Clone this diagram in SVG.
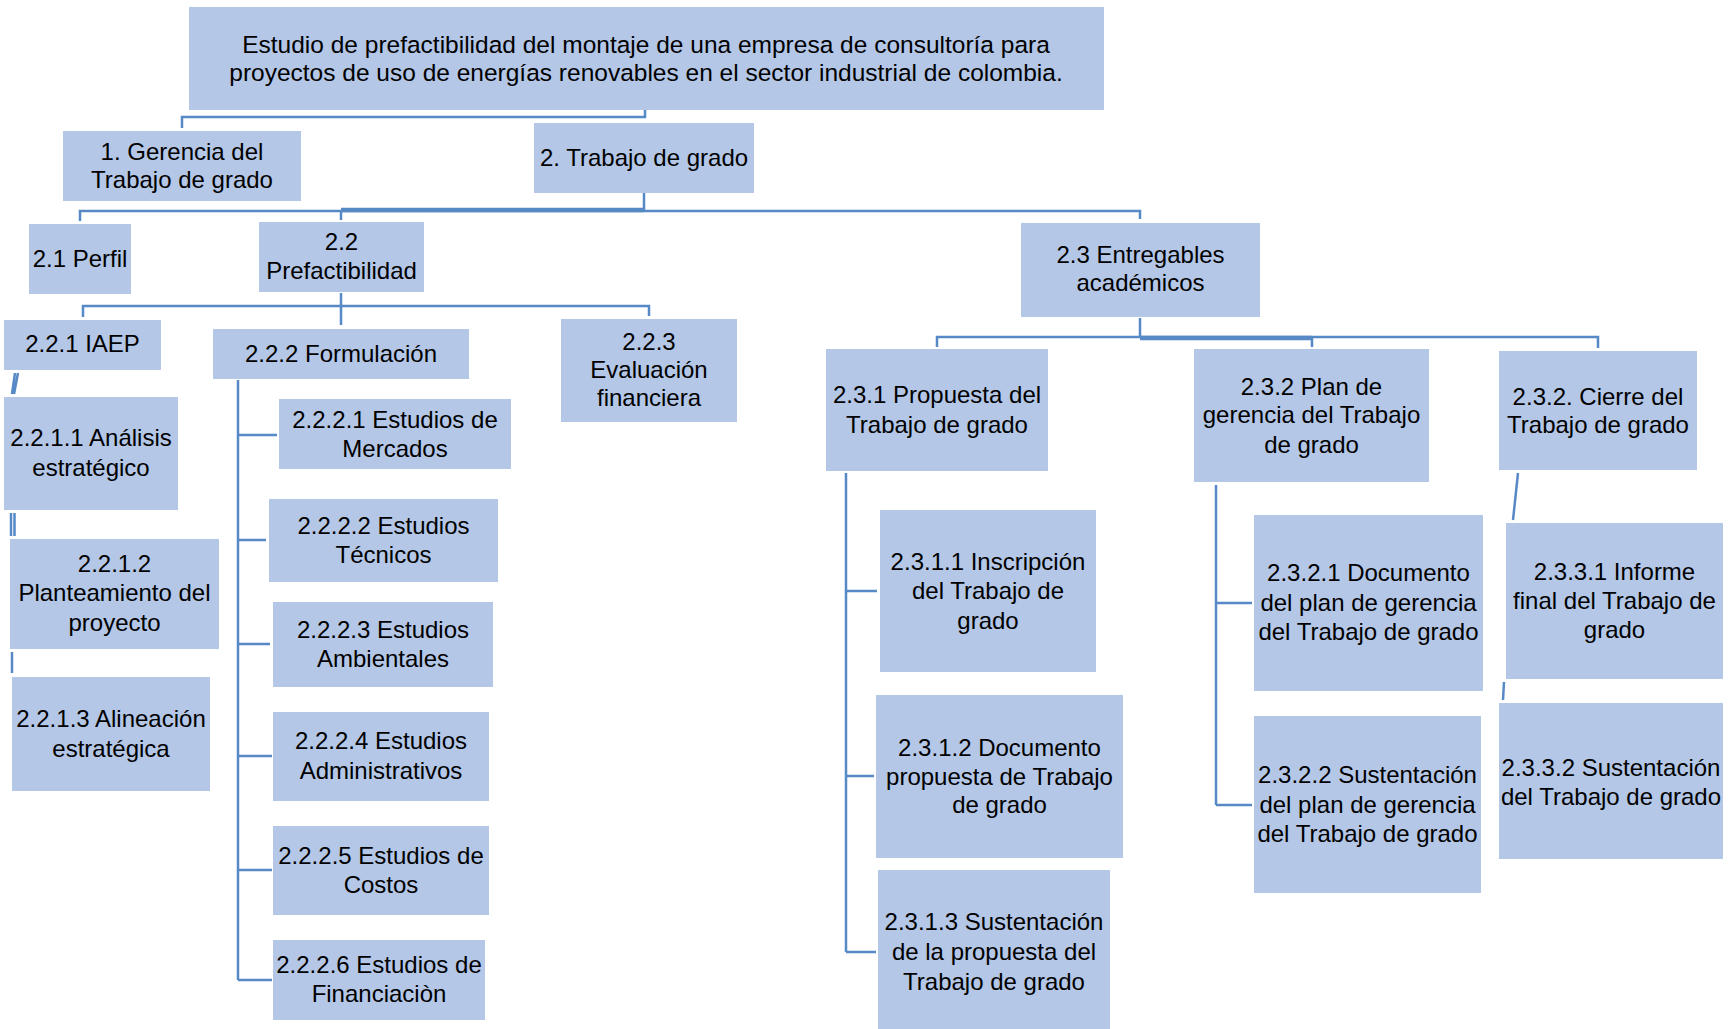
<svg xmlns="http://www.w3.org/2000/svg" width="1736" height="1029" viewBox="0 0 1736 1029">
<style>
.box{fill:#B4C7E7;}
.t{font-family:"Liberation Sans",Arial,sans-serif;font-size:24px;fill:#000;text-anchor:middle;dominant-baseline:central;transform:translateY(-1.5px);}
.big{font-size:24.5px;}
.ln{fill:none;stroke:#5689C5;stroke-width:2.5;}
.thk{fill:none;stroke:#5689C5;stroke-width:4.5;}
</style>
<rect width="1736" height="1029" fill="#fff"/>
<g id="connectors">
<path class="ln" d="M645,110 V117 H182 V128"/>
<path class="ln" d="M644,193 V211 H80 V221 M341,211 V220 M644,211 H1140 V219"/>
<path class="thk" d="M341,210 H644"/>
<path class="ln" d="M341,293 V325 M83,317 V306 H649 V316"/>
<path class="ln" d="M1140,318 V337 H937 V347 M1140,337 H1598 V348 M1312,337 V347"/>
<path class="thk" d="M1140,338 H1312"/>
<path class="ln" d="M238,380 V980 M238,435 H277 M238,540 H266 M238,644 H270 M238,756 H272 M238,870 H272 M238,980 H272"/>
<path class="ln" d="M846,473 V952 M846,591 H877 M846,776 H874 M846,952 H876"/>
<path class="ln" d="M1216,485 V805 M1216,603 H1252 M1216,805 H1252"/>
<path class="ln" d="M1518,473 L1513,520 M1504,682 L1503,700"/>
<path class="ln" d="M18,373 L14,394 M15,373 L12,394 M11,513 V536 M14.5,513 V536 M12,652 V673"/>
</g>
<g id="root"><rect class="box" x="189" y="7" width="915" height="103"/><text class="t big" x="646"><tspan x="646" y="45">Estudio de prefactibilidad del montaje de una empresa de consultoría para</tspan><tspan x="646" y="73">proyectos de uso de energías renovables en el sector industrial de colombia.</tspan></text></g>
<g id="n1"><rect class="box" x="63" y="131" width="238" height="70"/><text class="t"><tspan x="182" y="152">1. Gerencia del</tspan><tspan x="182" y="180">Trabajo de grado</tspan></text></g>
<g id="n2"><rect class="box" x="534" y="123" width="220" height="70"/><text class="t"><tspan x="644" y="158">2. Trabajo de grado</tspan></text></g>
<g id="n21"><rect class="box" x="29" y="224" width="102" height="70"/><text class="t"><tspan x="80" y="259">2.1 Perfil</tspan></text></g>
<g id="n22"><rect class="box" x="259" y="222" width="165" height="70"/><text class="t"><tspan x="341.5" y="242">2.2</tspan><tspan x="341.5" y="271">Prefactibilidad</tspan></text></g>
<g id="n23"><rect class="box" x="1021" y="223" width="239" height="94"/><text class="t"><tspan x="1140.5" y="255">2.3 Entregables</tspan><tspan x="1140.5" y="283">académicos</tspan></text></g>
<g id="n221"><rect class="box" x="4" y="320" width="157" height="50"/><text class="t"><tspan x="82.5" y="344">2.2.1 IAEP</tspan></text></g>
<g id="n2211"><rect class="box" x="4" y="397" width="174" height="113"/><text class="t"><tspan x="91" y="438">2.2.1.1 Análisis</tspan><tspan x="91" y="468">estratégico</tspan></text></g>
<g id="n2212"><rect class="box" x="10" y="539" width="209" height="110"/><text class="t"><tspan x="114.5" y="564">2.2.1.2</tspan><tspan x="114.5" y="593">Planteamiento del</tspan><tspan x="114.5" y="623">proyecto</tspan></text></g>
<g id="n2213"><rect class="box" x="12" y="677" width="198" height="114"/><text class="t"><tspan x="111" y="719">2.2.1.3 Alineación</tspan><tspan x="111" y="749">estratégica</tspan></text></g>
<g id="n222"><rect class="box" x="213" y="329" width="256" height="50"/><text class="t"><tspan x="341" y="354">2.2.2 Formulación</tspan></text></g>
<g id="n2221"><rect class="box" x="279" y="399" width="232" height="70"/><text class="t"><tspan x="395" y="420">2.2.2.1 Estudios de</tspan><tspan x="395" y="449">Mercados</tspan></text></g>
<g id="n2222"><rect class="box" x="269" y="499" width="229" height="83"/><text class="t"><tspan x="383.5" y="526">2.2.2.2 Estudios</tspan><tspan x="383.5" y="555">Técnicos</tspan></text></g>
<g id="n2223"><rect class="box" x="273" y="602" width="220" height="85"/><text class="t"><tspan x="383" y="630">2.2.2.3 Estudios</tspan><tspan x="383" y="659">Ambientales</tspan></text></g>
<g id="n2224"><rect class="box" x="273" y="712" width="216" height="89"/><text class="t"><tspan x="381" y="741">2.2.2.4 Estudios</tspan><tspan x="381" y="771">Administrativos</tspan></text></g>
<g id="n2225"><rect class="box" x="273" y="826" width="216" height="89"/><text class="t"><tspan x="381" y="856">2.2.2.5 Estudios de</tspan><tspan x="381" y="885">Costos</tspan></text></g>
<g id="n2226"><rect class="box" x="273" y="940" width="212" height="80"/><text class="t"><tspan x="379" y="965">2.2.2.6 Estudios de</tspan><tspan x="379" y="994">Financiaciòn</tspan></text></g>
<g id="n223"><rect class="box" x="561" y="319" width="176" height="103"/><text class="t"><tspan x="649" y="342">2.2.3</tspan><tspan x="649" y="370">Evaluación</tspan><tspan x="649" y="398">financiera</tspan></text></g>
<g id="n231"><rect class="box" x="826" y="349" width="222" height="122"/><text class="t"><tspan x="937" y="395">2.3.1 Propuesta del</tspan><tspan x="937" y="425">Trabajo de grado</tspan></text></g>
<g id="n232"><rect class="box" x="1194" y="349" width="235" height="133"/><text class="t"><tspan x="1311.5" y="387">2.3.2 Plan de</tspan><tspan x="1311.5" y="415">gerencia del Trabajo</tspan><tspan x="1311.5" y="445">de grado</tspan></text></g>
<g id="n233"><rect class="box" x="1499" y="351" width="198" height="119"/><text class="t"><tspan x="1598" y="397">2.3.2. Cierre del</tspan><tspan x="1598" y="425">Trabajo de grado</tspan></text></g>
<g id="n2311"><rect class="box" x="880" y="510" width="216" height="162"/><text class="t"><tspan x="988" y="562">2.3.1.1 Inscripción</tspan><tspan x="988" y="591">del Trabajo de</tspan><tspan x="988" y="621">grado</tspan></text></g>
<g id="n2312"><rect class="box" x="876" y="695" width="247" height="163"/><text class="t"><tspan x="999.5" y="748">2.3.1.2 Documento</tspan><tspan x="999.5" y="777">propuesta de Trabajo</tspan><tspan x="999.5" y="805">de grado</tspan></text></g>
<g id="n2313"><rect class="box" x="878" y="870" width="232" height="159"/><text class="t"><tspan x="994" y="922">2.3.1.3 Sustentación</tspan><tspan x="994" y="952">de la propuesta del</tspan><tspan x="994" y="982">Trabajo de grado</tspan></text></g>
<g id="n2321"><rect class="box" x="1254" y="515" width="229" height="176"/><text class="t"><tspan x="1368.5" y="573">2.3.2.1 Documento</tspan><tspan x="1368.5" y="603">del plan de gerencia</tspan><tspan x="1368.5" y="632">del Trabajo de grado</tspan></text></g>
<g id="n2322"><rect class="box" x="1254" y="716" width="227" height="177"/><text class="t"><tspan x="1367.5" y="775">2.3.2.2 Sustentación</tspan><tspan x="1367.5" y="805">del plan de gerencia</tspan><tspan x="1367.5" y="834">del Trabajo de grado</tspan></text></g>
<g id="n2331"><rect class="box" x="1506" y="523" width="217" height="156"/><text class="t"><tspan x="1614.5" y="572">2.3.3.1 Informe</tspan><tspan x="1614.5" y="601">final del Trabajo de</tspan><tspan x="1614.5" y="630">grado</tspan></text></g>
<g id="n2332"><rect class="box" x="1499" y="703" width="224" height="156"/><text class="t"><tspan x="1611" y="768">2.3.3.2 Sustentación</tspan><tspan x="1611" y="797">del Trabajo de grado</tspan></text></g>
</svg>
